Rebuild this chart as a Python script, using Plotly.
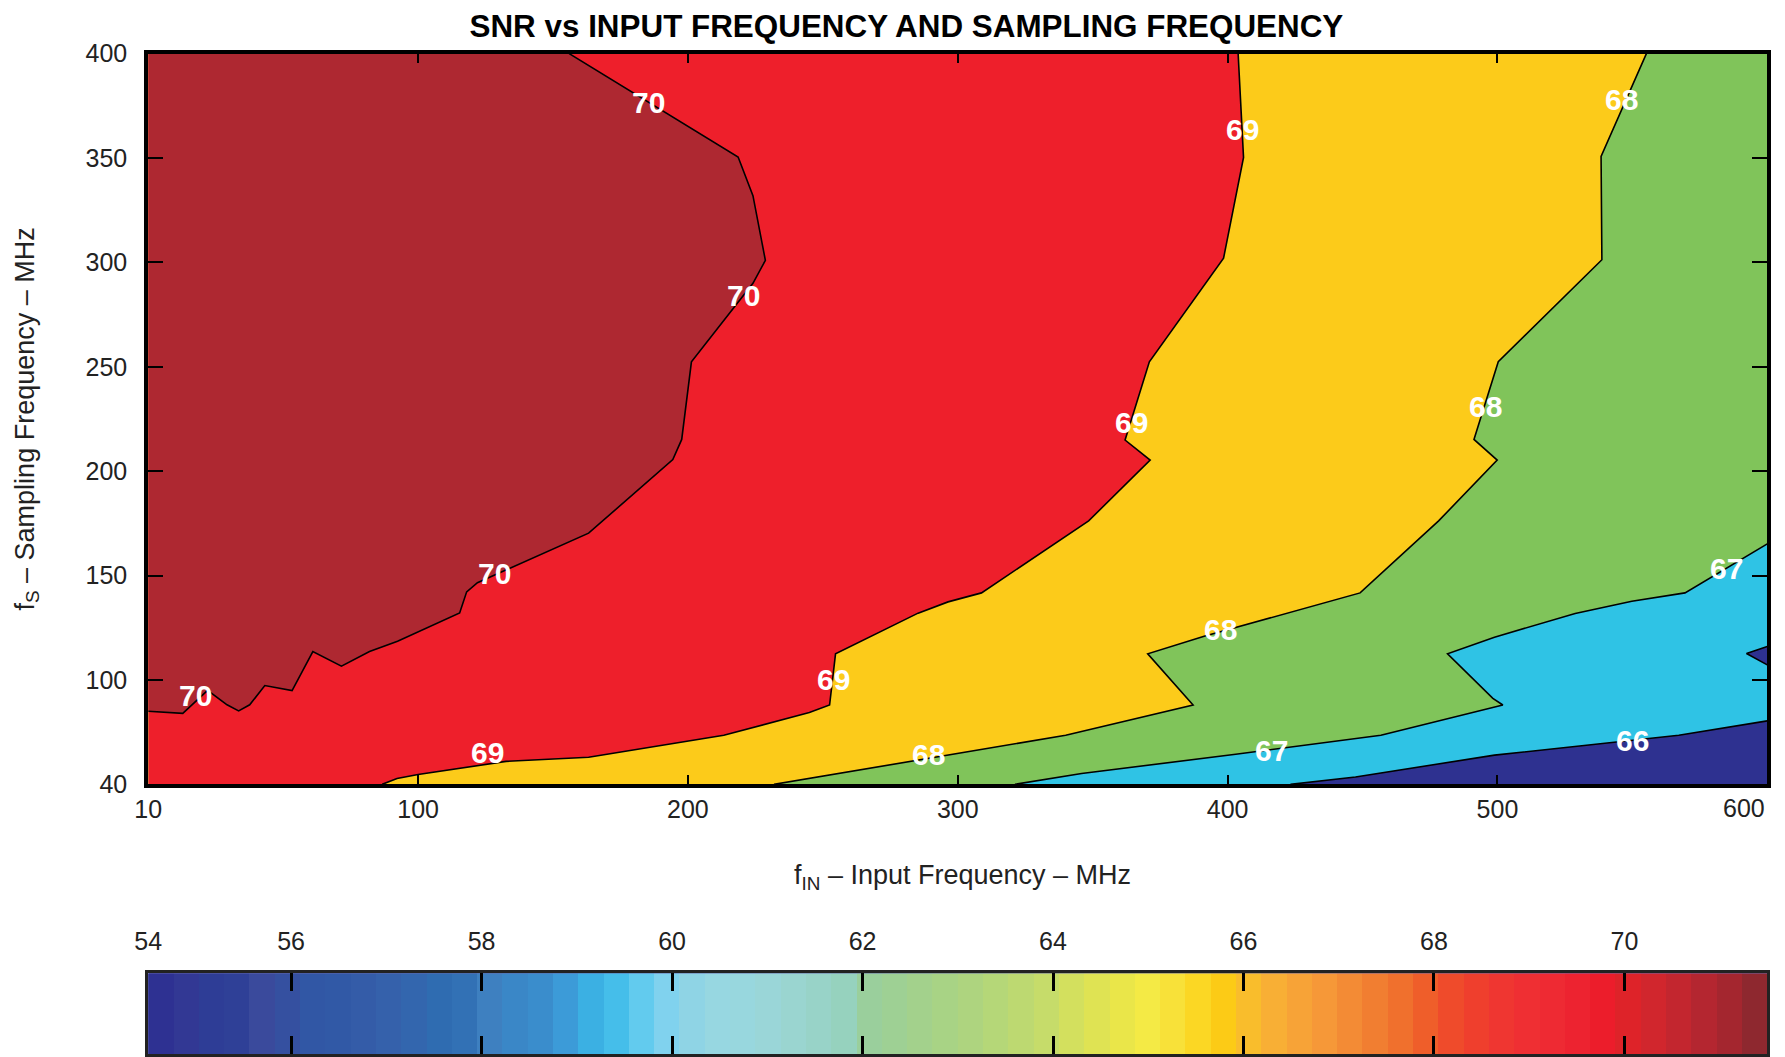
import plotly.graph_objects as go

# ---------------------------------------------------------------- data
# Contour lines of SNR (dB): input frequency fIN (MHz) vs sampling frequency fS (MHz)
C70_FIN = [0, 12.8, 22.0, 29.2, 33.5, 37.6, 43.2, 53.3, 61.0, 71.6, 82.0, 92.4,
           115.4, 118.0, 122.0, 163.2, 194.4, 197.7, 201.3, 209.0, 224.1, 228.7,
           224.1, 218.6, 156.0]
C70_FS = [85.0, 84.0, 95.0, 88.1, 85.2, 88.1, 97.3, 94.9, 113.6, 106.6, 113.6, 118.5,
          132.1, 142.2, 146.6, 170.3, 205.6, 215.2, 252.4, 265.0, 290.0, 301.0,
          332.0, 350.5, 400.0]

C69_FIN = [86.7, 92.2, 100.0, 132.6, 163.2, 213.3, 245.0, 252.5, 254.7, 285.3,
           296.4, 308.8, 348.5, 371.3, 362.0, 371.0, 398.5, 405.9, 403.9]
C69_FS = [50.0, 52.8, 54.7, 61.0, 63.0, 73.5, 84.4, 88.0, 112.5, 132.0,
          137.4, 141.7, 176.2, 205.3, 214.9, 252.4, 302.0, 350.3, 400.0]

C68_FIN = [231.9, 340.0, 387.2, 370.4, 391.3, 449.1, 478.2, 499.9, 491.3,
           500.3, 538.7, 538.4, 555.2]
C68_FS = [50.0, 73.5, 88.0, 112.5, 120.9, 141.7, 176.2, 205.3, 215.2,
          252.4, 301.3, 350.8, 400.0]

C67_FIN = [321.2, 345.9, 403.0, 448.7, 456.8, 502.0, 498.3, 481.5, 498.9,
           528.8, 549.8, 569.5, 600.0]
C67_FS = [50.0, 55.2, 64.4, 71.9, 73.5, 88.0, 91.2, 112.5, 120.5,
          131.8, 137.7, 141.7, 165.2]

C66_FIN = [423.3, 447.4, 498.9, 567.2, 600.0]
C66_FS = [50.0, 53.5, 64.0, 73.5, 80.4]

# small closed pocket below 66 dB at the right edge
C66B_FIN = [600.0, 592.3, 600.0]
C66B_FS = [116.0, 112.7, 107.2]

# contour labels
LABEL_FIN = [185.4, 220.5, 128.3, 17.6, 405.7, 364.3, 253.9, 125.8,
             546.1, 495.4, 397.3, 289.0, 585.0, 416.3, 549.9]
LABEL_FS = [376.6, 284.0, 151.2, 92.4, 363.5, 223.1, 100.0, 65.2,
            378.2, 231.2, 124.0, 64.1, 153.4, 66.2, 71.2]
LABEL_TEXT = ["70", "70", "70", "70", "69", "69", "69", "69",
              "68", "68", "68", "68", "67", "67", "66"]

# axes
X_MIN, X_MAX = 0, 600
Y_MIN, Y_MAX = 50, 400
X_TICKS = [0, 100, 200, 300, 400, 500, 600]
X_TICKTEXT = ["10", "100", "200", "300", "400", "500", "600"]
Y_TICKS = [50, 100, 150, 200, 250, 300, 350, 400]
Y_TICKTEXT = ["40", "100", "150", "200", "250", "300", "350", "400"]

# colour key
CBAR_MIN, CBAR_MAX = 54.5, 71.5
CBAR_TICKS = [54.5, 56, 58, 60, 62, 64, 66, 68, 70]
CBAR_TICKTEXT = ["54", "56", "58", "60", "62", "64", "66", "68", "70"]
CBAR_COLORS = [
    "#2E3192", "#323894", "#2E3D96", "#2F4097", "#3A4A9C", "#3550A0", "#3157A5", "#3159A6",
    "#345CA8", "#3561AB", "#3366AE", "#2F6CB1", "#3271B5", "#3E80C0", "#3A87C7", "#3A8DCC",
    "#3C9BD8", "#3BB0E3", "#45BEEA", "#62CBEE", "#80D2EE", "#8FD4E5", "#97D7E1", "#98D7DE",
    "#9AD6D8", "#9AD5D0", "#98D3C8", "#96D2BE", "#9ACF9C", "#9ED094", "#A3D18C", "#A8D385",
    "#AED47F", "#B5D778", "#BDD971", "#C6DC6A", "#D3E05E", "#DFE353", "#EAE649", "#F4EA45",
    "#F8E139", "#FBD724", "#FCCB16", "#F9BD2C", "#F8AF35", "#F7A337", "#F69838", "#F38B35",
    "#F17E31", "#F0702D", "#EF5E2A", "#EF4B2B", "#EF3F2D", "#EF3631", "#EF2F33", "#EE2A33",
    "#ED2330", "#EC1D2B", "#DE2329", "#D1262D", "#C3262F", "#B42630", "#A4262F", "#8E282F",
]

# fill colours of the contour bands
COL_BELOW_66 = "#2E3190"
COL_66_67 = "#2FC3E5"
COL_67_68 = "#80C45A"
COL_68_69 = "#FCCB1A"
COL_69_70 = "#EE1F2B"
COL_ABOVE_70 = "#AE2831"

# ---------------------------------------------------------------- layout
W, H = 1785, 1072
FONT = "Liberation Sans, Arial, Helvetica, sans-serif"


def fy(p):
    """vertical pixel offset from the top -> paper fraction"""
    return 1 - p / H


# horizontal placement as paper fractions
PLOT_X0, PLOT_X1 = 0.0758, 0.990
# vertical placement in pixels from the top
PLOT_T, PLOT_B = 40.7, 791
CB_T, CB_B = 985, 1068
XTICK_ROW = 815.5

fig = go.Figure()


def band(xs, ys, color):
    fig.add_trace(go.Scatter(x=xs, y=ys, mode="lines", fill="toself",
                             fillcolor=color, line=dict(width=0),
                             hoverinfo="skip", showlegend=False))


# regions at or above each level, closed along the upper-left border
band(C66_FIN + [X_MAX, X_MIN, X_MIN], C66_FS + [Y_MAX, Y_MAX, Y_MIN], COL_66_67)
band(C67_FIN + [X_MAX, X_MIN, X_MIN], C67_FS + [Y_MAX, Y_MAX, Y_MIN], COL_67_68)
band(C68_FIN + [X_MIN, X_MIN], C68_FS + [Y_MAX, Y_MIN], COL_68_69)
band(C69_FIN + [X_MIN, X_MIN], C69_FS + [Y_MAX, Y_MIN], COL_69_70)
band(C70_FIN + [X_MIN], C70_FS + [Y_MAX], COL_ABOVE_70)
band(C66B_FIN, C66B_FS, COL_BELOW_66)

for xs, ys in [(C70_FIN, C70_FS), (C69_FIN, C69_FS), (C68_FIN, C68_FS),
               (C67_FIN, C67_FS), (C66_FIN, C66_FS), (C66B_FIN, C66B_FS)]:
    fig.add_trace(go.Scatter(x=xs, y=ys, mode="lines",
                             line=dict(color="black", width=1.6),
                             hoverinfo="skip", showlegend=False))

for x, y, t in zip(LABEL_FIN, LABEL_FS, LABEL_TEXT):
    fig.add_annotation(x=x, y=y, text=t, showarrow=False, xref="x", yref="y",
                       font=dict(family=FONT, size=30, color="white", weight="bold"))

# colour key drawn as a strip of cells
n = len(CBAR_COLORS)
step = (CBAR_MAX - CBAR_MIN) / n
centers = [CBAR_MIN + (k + 0.5) * step for k in range(n)]
scale = []
for k, c in enumerate(CBAR_COLORS):
    scale.append([k / n, c])
    scale.append([(k + 1) / n, c])
fig.add_trace(go.Heatmap(x=centers, y=[0], z=[centers], colorscale=scale,
                         zmin=CBAR_MIN, zmax=CBAR_MAX, showscale=False,
                         hoverinfo="skip", xaxis="x2", yaxis="y2"))

axis_font = dict(family=FONT, size=25, color="#222")

# the last x tick label sits at the right edge of the page, so it is
# written separately and kept right-aligned inside the figure
x_ticktext_axis = [t if v != X_MAX else "" for v, t in zip(X_TICKS, X_TICKTEXT)]

fig.update_layout(
    width=W, height=H,
    margin=dict(l=0, r=0, t=0, b=0),
    paper_bgcolor="white",
    plot_bgcolor=COL_BELOW_66,
    showlegend=False,
    title=dict(text="SNR vs INPUT FREQUENCY AND SAMPLING FREQUENCY",
               x=0.5039, xref="paper", xanchor="center",
               y=fy(12.3), yref="paper", yanchor="middle",
               font=dict(family=FONT, size=31.4, color="black", weight="bold")),
    xaxis=dict(domain=[PLOT_X0, PLOT_X1], range=[X_MIN, X_MAX],
               tickvals=X_TICKS, ticktext=x_ticktext_axis, ticks="inside",
               ticklen=9, tickwidth=2, tickcolor="black",
               showline=True, linewidth=4, linecolor="black", mirror="ticks",
               showgrid=False, zeroline=False, tickfont=axis_font,
               ticklabelstandoff=0, anchor="y"),
    yaxis=dict(domain=[fy(PLOT_B), fy(PLOT_T)], range=[Y_MIN, Y_MAX],
               tickvals=Y_TICKS, ticktext=Y_TICKTEXT, ticks="inside",
               ticklen=15, tickwidth=2, tickcolor="black",
               showline=True, linewidth=4, linecolor="black", mirror="ticks",
               showgrid=False, zeroline=False, tickfont=axis_font,
               ticklabelstandoff=12, anchor="x"),
    xaxis2=dict(domain=[PLOT_X0, PLOT_X1], range=[CBAR_MIN, CBAR_MAX],
                anchor="y2", side="top", tickvals=CBAR_TICKS, ticktext=CBAR_TICKTEXT,
                ticks="inside", ticklen=18, tickwidth=3, tickcolor="black",
                showline=True, linewidth=3, linecolor="#222", mirror="ticks",
                showgrid=False, zeroline=False, tickfont=axis_font,
                ticklabelstandoff=10),
    yaxis2=dict(domain=[fy(CB_B), fy(CB_T)], range=[-0.5, 0.5], anchor="x2",
                showticklabels=False, ticks="", showline=True, linewidth=3,
                linecolor="#222", mirror=True, showgrid=False, zeroline=False),
)

fig.add_annotation(text=X_TICKTEXT[-1], x=X_TICKS[-1], xref="x",
                   y=fy(XTICK_ROW), yref="paper", xanchor="right", yanchor="middle",
                   showarrow=False, font=axis_font)

fig.add_annotation(text="f<sub>IN</sub> – Input Frequency – MHz", showarrow=False,
                   xref="paper", yref="paper", x=0.5355, y=fy(886),
                   xanchor="center", yanchor="middle",
                   font=dict(family=FONT, size=27, color="#222"))
fig.add_annotation(text="f<sub>S</sub> – Sampling Frequency – MHz", showarrow=False,
                   xref="paper", yref="paper", x=0.0071, y=fy((PLOT_T + PLOT_B) / 2),
                   xanchor="center", yanchor="middle", textangle=-90,
                   font=dict(family=FONT, size=27, color="#222"))

fig.write_html("out.html")
